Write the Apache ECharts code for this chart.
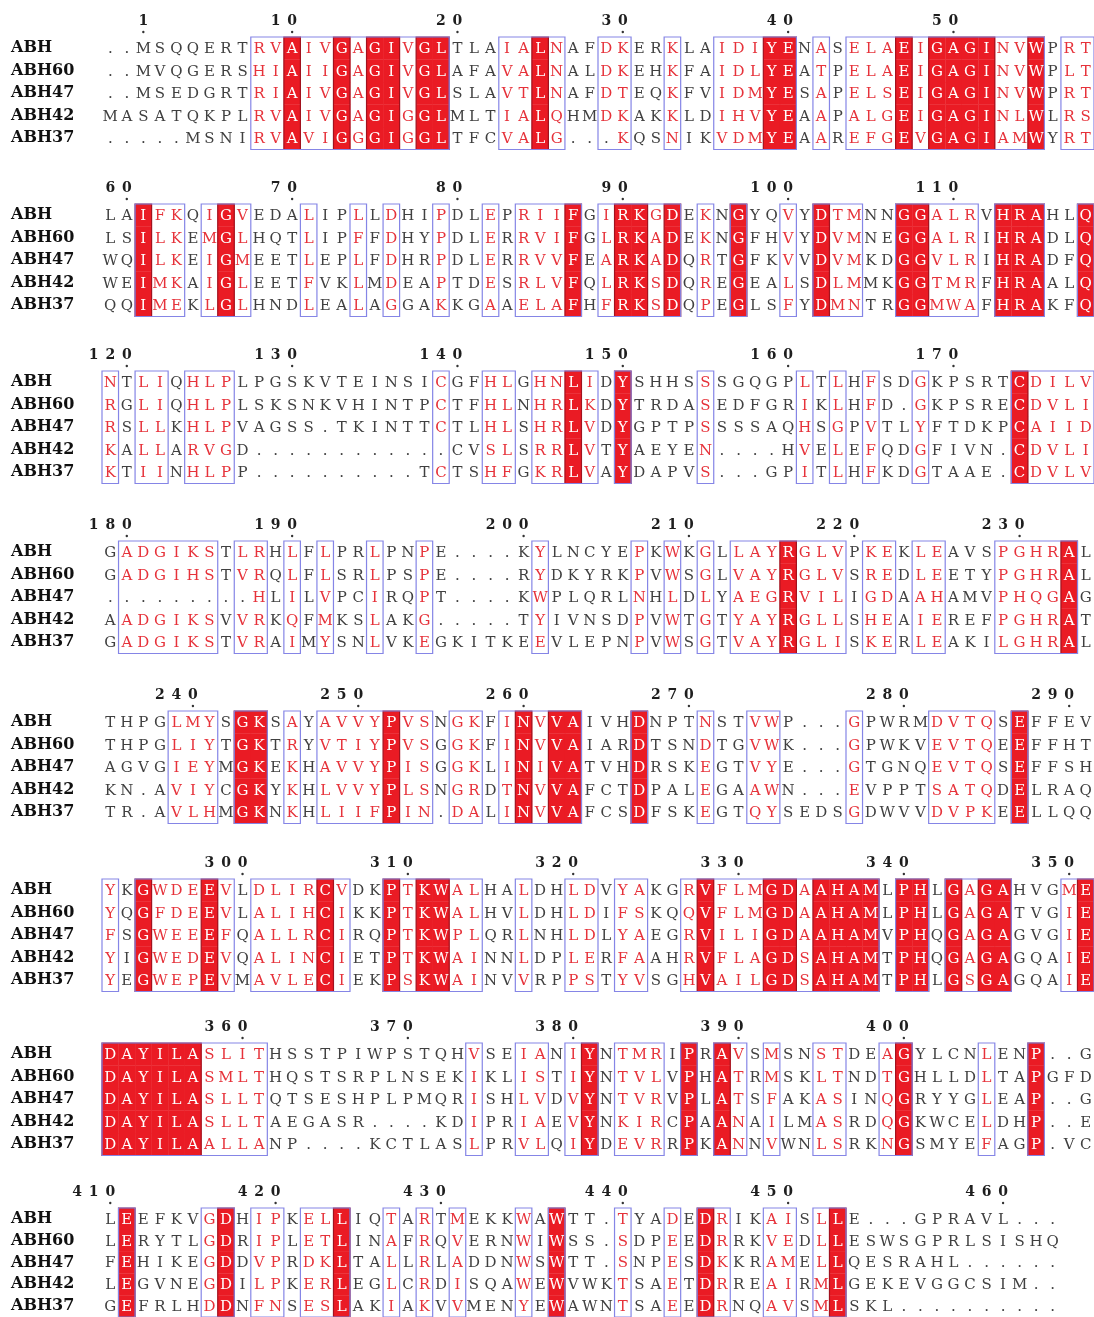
<!DOCTYPE html>
<html>
<head>
<meta charset="utf-8">
<title>ABH alignment</title>
<script src="https://cdn.jsdelivr.net/npm/echarts@6/dist/echarts.min.js"></script>
<style>
  html, body { margin: 0; padding: 0; background: #ffffff; }
  #chart { width: 1094px; height: 1317px; }
</style>
</head>
<body>
<div id="chart"></div>
<script>
// Sequence names (one row each in every block)
const names = ['ABH', 'ABH60', 'ABH47', 'ABH42', 'ABH37'];

// Aligned sequences, one string per block of the alignment
const seqABH = [
  '..MSQQERTRVAIVGAGIVGLTLAIALNAFDKERKLAIDIYENASELAEIGAGINVWPRT',
  'LAIFKQIGVEDALIPLLDHIPDLEPRIIFGIRKGDEKNGYQVYDTMNNGGALRVHRAHLQ',
  'NTLIQHLPLPGSKVTEINSICGFHLGHNLIDYSHHSSSGQGPLTLHFSDGKPSRTCDILV',
  'GADGIKSTLRHLFLPRLPNPE....KYLNCYEPKWKGLLAYRGLVPKEKLEAVSPGHRAL',
  'THPGLMYSGKSAYAVVYPVSNGKFINVVAIVHDNPTNSTVWP...GPWRMDVTQSEFFEV',
  'YKGWDEEVLDLIRCVDKPTKWALHALDHLDVYAKGRVFLMGDAAHAMLPHLGAGAHVGME',
  'DAYILASLITHSSTPIWPSTQHVSEIANIYNTMRIPRAVSMSNSTDEAGYLCNLENP..G',
  'LEEFKVGDHIPKELLIQTARTMEKKWAWTT.TYADEDRIKAISLLE...GPRAVL...'
];
const seqABH60 = [
  '..MVQGERSHIAIIGAGIVGLAFAVALNALDKEHKFAIDLYEATPELAEIGAGINVWPLT',
  'LSILKEMGLHQTLIPFFDHYPDLERRVIFGLRKADEKNGFHVYDVMNEGGALRIHRADLQ',
  'RGLIQHLPLSKSNKVHINTPCTFHLNHRLKDYTRDASEDFGRIKLHFD.GKPSRECDVLI',
  'GADGIHSTVRQLFLSRLPSPE....RYDKYRKPVWSGLVAYRGLVSREDLEETYPGHRAL',
  'THPGLIYTGKTRYVTIYPVSGGKFINVVAIARDTSNDTGVWK...GPWKVEVTQEEFFHT',
  'YQGFDEEVLALIHCIKKPTKWALHVLDHLDIFSKQQVFLMGDAAHAMLPHLGAGATVGIE',
  'DAYILASMLTHQSTSRPLNSEKIKLISTIYNTVLVPHATRMSKLTNDTGHLLDLTAPGFD',
  'LERYTLGDRIPLETLINAFRQVERNWIWSS.SDPEEDRRKVEDLLESWSGPRLSISHQ'
];
const seqABH47 = [
  '..MSEDGRTRIAIVGAGIVGLSLAVTLNAFDTEQKFVIDMYESAPELSEIGAGINVWPRT',
  'WQILKEIGMEETLEPLFDHRPDLERRVVFEARKADQRTGFKVVDVMKDGGVLRIHRADFQ',
  'RSLLKHLPVAGSS.TKINTTCTLHLSHRLVDYGPTPSSSSAQHSGPVTLYFTDKPCAIID',
  '.........HLILVPCIRQPT....KWPLQRLNHLDLYAEGRVILIGDAAHAMVPHQGAG',
  'AGVGIEYMGKEKHAVVYPISGGKLINIVATVHDRSKEGTVYE...GTGNQEVTQSEFFSH',
  'FSGWEEEFQALLRCIRQPTKWPLQRLNHLDLYAEGRVILIGDAAHAMVPHQGAGAGVGIE',
  'DAYILASLLTQTSESHPLPMQRISHLVDVYNTVRVPLATSFAKASINQGRYYGLEAP..G',
  'FEHIKEGDDVPRDKLTALLRLADDNWSWTT.SNPESDKKRAMELLQESRAHL......'
];
const seqABH42 = [
  'MASATQKPLRVAIVGAGIGGLMLTIALQHMDKAKKLDIHVYEAAPALGEIGAGINLWLRS',
  'WEIMKAIGLEETFVKLMDEAPTDESRLVFQLRKSDQREGEALSDLMMKGGTMRFHRAALQ',
  'KALLARVGD............CVSLSRRLVTYAEYEN....HVELEFQDGFIVN.CDVLI',
  'AADGIKSVVRKQFMKSLAKG.....TYIVNSDPVWTGTYAYRGLLSHEAIEREFPGHRAT',
  'KN.AVIYCGKYKHLVVYPLSNGRDTNVVAFCTDPALEGAAWN...EVPPTSATQDELRAQ',
  'YIGWEDEVQALINCIETPTKWAINNLDPLERFAAHRVFLAGDSAHAMTPHQGAGAGQAIE',
  'DAYILASLLTAEGASR....KDIPRIAEVYNKIRCPAANAILMASRDQGKWCELDHP..E',
  'LEGVNEGDILPKERLEGLCRDISQAWEWVWKTSAETDRREAIRMLGEKEVGGCSIM..'
];
const seqABH37 = [
  '.....MSNIRVAVIGGGIGGLTFCVALG...KQSNIKVDMYEAAREFGEVGAGIAMWYRT',
  'QQIMEKLGLHNDLEALAGGAKKGAAELAFHFRKSDQPEGLSFYDMNTRGGMWAFHRAKFQ',
  'KTIINHLPP..........TCTSHFGKRLVAYDAPVS...GPITLHFKDGTAAE.CDVLV',
  'GADGIKSTVRAIMYSNLVKEGKITKEEVLEPNPVWSGTVAYRGLISKERLEAKILGHRAL',
  'TR.AVLHMGKNKHLIIFPIN.DALINVVAFCSDFSKEGTQYSEDSGDWVVDVPKEELLQQ',
  'YEGWEPEVMAVLECIEKPSKWAINVVRPPSTYVSGHVAILGDSAHAMTPHLGSGAGQAIE',
  'DAYILAALLANP....KCTLASLPRVLQIYDEVRRPKANNVWNLSRKNGSMYEFAGP.VC',
  'GEFRLHDDNFNSESLAKIAKVVMENYEWAWNTSAEEDRNQAVSMLSKL..........'
];

// Column conservation per block: '!' strictly identical, '+' similar (framed), '.' none
const conservation = [
  '.........++!++!+!!+!!...++!+..++..+..+++!!.+.+++!+!!!!++!.++',
  '..!++.+!+...+..+.+..+..+.+++!.+!!+!.+.!..+.!++..!!+++.!!!..!',
  '+.++.+++............+..++.++!+.!....+.....+.+.+..+.....!++++',
  '.++++++.++.+.+..+..+......+.....+.+.+.+++!+++.++.++...++++!.',
  '....+++.!!.+.++++!++.++.+!+!!...!...+..++....+....++++.!....',
  '+.!+++!+.++++!+..!+!!++..+..++.++..+!+++!!+!!!!.!!.!+!!...+!',
  '!!!!!!++++............+..++.+!.+++.!.!+.+..++..+!....+..!...',
  '.!....+!.++.++!..+.+.+...+.!...+..+.!+..++.+!.............'
];

// Residue numbers of the first sequence printed above each block
const positionTicks = [
  [1, 10, 20, 30, 40, 50],
  [60, 70, 80, 90, 100, 110],
  [120, 130, 140, 150, 160, 170],
  [180, 190, 200, 210, 220, 230],
  [240, 250, 260, 270, 280, 290],
  [300, 310, 320, 330, 340, 350],
  [360, 370, 380, 390, 400],
  [410, 420, 430, 440, 450, 460]
];

// ---- layout & style ----
const COLS = 60;
const GRID_LEFT = 102;
const COL_W = 16.55;
const ROW_H = 22.5;
const blockTops = [37, 204, 371, 541, 711, 879, 1043, 1208];

const RED = '#ea1b24';
const RED_EDGE = '#a3121e';
const FRAME = '#8585e6';
const TXT_PLAIN = '#404040';
const TXT_SIMILAR = '#e6323a';
const RESIDUE_FONT = '15px "DejaVu Serif"';
const NUMBER_FONT = 'bold 14px "DejaVu Serif"';

const rowsSeq = [seqABH, seqABH60, seqABH47, seqABH42, seqABH37];

function runsOf(str, test) {
  const out = [];
  let start = -1;
  for (let i = 0; i <= str.length; i++) {
    const ok = i < str.length && test(str[i]);
    if (ok && start < 0) start = i + 1;
    if (!ok && start >= 0) { out.push([start, i]); start = -1; }
  }
  return out;
}

// per-block cell lists: [column, rowIndex, residue, class]
const cellData = [];
for (let b = 0; b < conservation.length; b++) {
  const cells = [];
  for (let r = 0; r < rowsSeq.length; r++) {
    const s = rowsSeq[r][b];
    for (let c = 0; c < s.length; c++) {
      cells.push([c + 1, r, s[c], conservation[b][c] || '.']);
    }
  }
  cellData.push(cells);
}

// columns where the numbered residues of the first sequence sit
const tickData = [];
let residueCount = 0;
for (let b = 0; b < seqABH.length; b++) {
  const list = [];
  const s = seqABH[b];
  for (let c = 0; c < s.length; c++) {
    if (s[c] !== '.') {
      residueCount++;
      if (positionTicks[b].indexOf(residueCount) >= 0) list.push([c + 1, residueCount]);
    }
  }
  tickData.push(list);
}

function cellRenderer(b) {
  return function (params, api) {
    const item = cellData[b][params.dataIndex];
    const p = api.coord([item[0], item[1]]);
    const sz = api.size([1, 1]);
    const ch = item[2];
    const cls = item[3];
    const children = [];
    let color = TXT_PLAIN;
    if (ch !== '.') {
      if (cls === '!') color = '#ffffff';
      else if (cls === '+') color = TXT_SIMILAR;
    }
    if (cls === '!') {
      children.push({
        type: 'rect',
        shape: { x: p[0] - sz[0] / 2, y: p[1] - sz[1] / 2, width: sz[0] + 0.3, height: sz[1] + 0.3 },
        style: { fill: RED }
      });
    }
    children.push({
      type: 'text',
      x: p[0],
      y: p[1] + 1,
      style: { text: ch, textAlign: 'center', textVerticalAlign: 'middle', fill: color, font: RESIDUE_FONT }
    });
    return { type: 'group', children: children };
  };
}

function spanRenderer(list, stroke, width) {
  return function (params, api) {
    const run = list[params.dataIndex];
    const a = api.coord([run[0], 0]);
    const z = api.coord([run[1], 4]);
    const sz = api.size([1, 1]);
    return {
      type: 'rect',
      shape: {
        x: a[0] - sz[0] / 2,
        y: a[1] - sz[1] / 2,
        width: z[0] - a[0] + sz[0],
        height: z[1] - a[1] + sz[1]
      },
      style: { fill: 'none', stroke: stroke, lineWidth: width }
    };
  };
}

function tickRenderer(b) {
  return function (params, api) {
    const t = tickData[b][params.dataIndex];
    const top = api.coord([t[0], 0]);
    const sz = api.size([1, 1]);
    const yTop = top[1] - sz[1] / 2;
    const digits = String(t[1]);
    const children = [];
    for (let i = 0; i < digits.length; i++) {
      const x = api.coord([t[0] - (digits.length - 1 - i), 0])[0];
      children.push({
        type: 'text',
        x: x,
        y: yTop - 16,
        style: { text: digits[i], textAlign: 'center', textVerticalAlign: 'middle', fill: '#1e1e1e', font: NUMBER_FONT }
      });
    }
    children.push({
      type: 'circle',
      shape: { cx: top[0], cy: yTop - 5, r: 1.2 },
      style: { fill: '#333333' }
    });
    return { type: 'group', children: children };
  };
}

const grids = [], xAxes = [], yAxes = [], series = [];
for (let b = 0; b < conservation.length; b++) {
  grids.push({ left: GRID_LEFT, top: blockTops[b], width: COLS * COL_W, height: ROW_H * names.length });
  xAxes.push({ gridIndex: b, type: 'value', min: 0.5, max: COLS + 0.5, show: false });
  yAxes.push({
    gridIndex: b,
    type: 'category',
    data: names,
    inverse: true,
    axisLine: { show: false },
    axisTick: { show: false },
    splitLine: { show: false },
    axisLabel: {
      show: true,
      align: 'left',
      margin: GRID_LEFT - 11,
      color: '#101010',
      fontFamily: 'DejaVu Serif',
      fontWeight: 'bold',
      fontSize: 16
    }
  });

  const redRuns = runsOf(conservation[b], ch => ch === '!');
  const frames = runsOf(conservation[b], ch => ch === '!' || ch === '+');

  series.push({
    type: 'custom', name: 'residues-' + b, xAxisIndex: b, yAxisIndex: b,
    clip: false, z: 2, silent: true,
    encode: { x: 0, y: 1 },
    data: cellData[b].map(d => [d[0], d[1]]),
    renderItem: cellRenderer(b)
  });
  series.push({
    type: 'custom', name: 'identical-' + b, xAxisIndex: b, yAxisIndex: b,
    clip: false, z: 3, silent: true,
    encode: { x: [0, 1] },
    data: redRuns,
    renderItem: spanRenderer(redRuns, RED_EDGE, 1.2)
  });
  series.push({
    type: 'custom', name: 'frames-' + b, xAxisIndex: b, yAxisIndex: b,
    clip: false, z: 4, silent: true,
    encode: { x: [0, 1] },
    data: frames,
    renderItem: spanRenderer(frames, FRAME, 1.2)
  });
  series.push({
    type: 'custom', name: 'numbering-' + b, xAxisIndex: b, yAxisIndex: b,
    clip: false, z: 5, silent: true,
    encode: { x: 0 },
    data: tickData[b],
    renderItem: tickRenderer(b)
  });
}

const chart = echarts.init(document.getElementById('chart'), null, { renderer: 'canvas' });
chart.setOption({
  animation: false,
  backgroundColor: '#ffffff',
  grid: grids,
  xAxis: xAxes,
  yAxis: yAxes,
  series: series
});
</script>
</body>
</html>
